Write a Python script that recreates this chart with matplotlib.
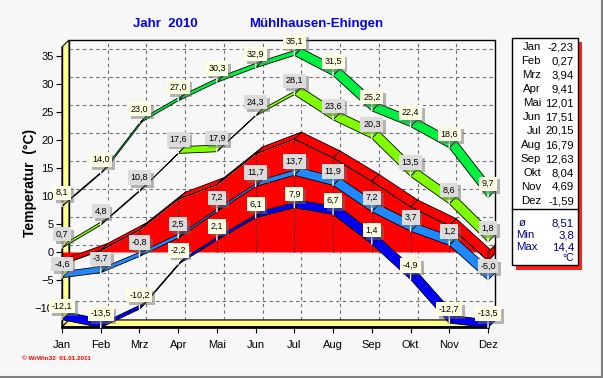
import numpy as np
import matplotlib.pyplot as plt
from matplotlib.patches import Polygon, Rectangle
from matplotlib.lines import Line2D
import matplotlib.patheffects as pe

plt.rcParams['font.family'] = ['Liberation Sans', 'DejaVu Sans']

# monthly values, Muehlhausen-Ehingen 2010
months = ['Jan', 'Feb', 'Mrz', 'Apr', 'Mai', 'Jun', 'Jul', 'Aug', 'Sep', 'Okt', 'Nov', 'Dez']
abs_max = [8.1, 14.0, 23.0, 27.0, 30.3, 32.9, 35.1, 31.5, 25.2, 22.4, 18.6, 9.7]
mean_max = [0.7, 4.8, 10.8, 17.6, 17.9, 24.3, 28.1, 23.6, 20.3, 13.5, 8.6, 1.8]
mean_temp = [-2.23, 0.27, 3.94, 9.41, 12.01, 17.51, 20.15, 16.79, 12.63, 8.04, 4.69, -1.59]
mean_min = [-4.6, -3.7, -0.8, 2.5, 7.2, 11.7, 13.7, 11.9, 7.2, 3.7, 1.2, -5.0]
abs_min = [-12.1, -13.5, -10.2, -2.2, 2.1, 6.1, 7.9, 6.7, 1.4, -4.9, -12.7, -13.5]
stat_names = ['ø', 'Min', 'Max']
stat_values = [8.51, 3.8, 14.4]
yticks = [-10, -5, 0, 5, 10, 15, 20, 25, 30, 35]

W, H = 603, 378
bg = '#f7f7f7'
fig = plt.figure(figsize=(W / 100, H / 100), dpi=100, facecolor=bg)

def fx(px):
    return px / W

def fy(py):
    return 1 - py / H

ax = fig.add_axes([fx(62), fy(327), (488 - 62) / W, (327 - 47) / H])
ymin, ymax = -13.4, 36.6
ax.set_xlim(0, 11)
ax.set_ylim(ymin, ymax)
ax.patch.set_visible(False)
x = np.arange(12)

# 3d depth, 7 px back and up
dx = 7 * 11 / 426
dy = 7 * (ymax - ymin) / 280

# back wall, side wall, floor
ax.add_patch(Rectangle((dx, ymin + dy), 11, ymax - ymin, fc=bg, ec='black', lw=1,
                       zorder=0, clip_on=False))
for v in yticks:
    ax.plot([dx, 11 + dx], [v + dy, v + dy], color='#707070', lw=0.8, ls=(0, (3, 3)),
            zorder=1, clip_on=False)
for m in x[1:-1]:
    ax.plot([m + dx, m + dx], [ymin + dy, ymax + dy], color='#707070', lw=0.8,
            ls=(0, (3, 3)), zorder=1, clip_on=False)
ax.add_patch(Polygon([(0, ymin), (0, ymax), (dx, ymax + dy), (dx, ymin + dy)],
                     fc='#ffff8c', ec='black', lw=0.8, zorder=2, clip_on=False))
ax.add_patch(Polygon([(0, ymin), (11, ymin), (11 + dx, ymin + dy), (dx, ymin + dy)],
                     fc='#ffff8c', ec='black', lw=0.8, zorder=2, clip_on=False))

# mean temperature as 3d area
ax.fill_between(x, 0, mean_temp, color='red', lw=0, zorder=3)
for i in range(11):
    poly = [(x[i], mean_temp[i]), (x[i + 1], mean_temp[i + 1]),
            (x[i + 1] + dx, mean_temp[i + 1] + dy), (x[i] + dx, mean_temp[i] + dy)]
    ax.add_patch(Polygon(poly, fc='red', ec='black', lw=0.6, zorder=3, clip_on=False))
ax.add_patch(Polygon([(11, 0), (11, mean_temp[-1]), (11 + dx, mean_temp[-1] + dy), (11 + dx, dy)],
                     fc='#e00000', ec='black', lw=0.6, zorder=3, clip_on=False))
ax.plot(x, mean_temp, color='black', lw=0.6, zorder=3)
ax.vlines(x[1:], 0, mean_temp[1:], colors='black', linestyles=':', lw=0.8, zorder=3)


def ribbon(vals, color, z):
    for i in range(11):
        poly = [(x[i], vals[i]), (x[i + 1], vals[i + 1]),
                (x[i + 1] + dx, vals[i + 1] + dy), (x[i] + dx, vals[i] + dy)]
        ax.add_patch(Polygon(poly, fc=color, ec='black', lw=0.6, zorder=z, clip_on=False))


def labels(vals, fc, z):
    for xi, v in zip(x, vals):
        t = ax.annotate(f'{v:.1f}'.replace('.', ','), (xi, v), xytext=(0, 10),
                        textcoords='offset points', ha='center', va='center', fontsize=6.5,
                        bbox=dict(boxstyle='square,pad=0.3', fc=fc, ec='none'),
                        arrowprops=dict(arrowstyle='-', color='white', lw=1, shrinkA=0, shrinkB=0),
                        zorder=z, annotation_clip=False)
        t.get_bbox_patch().set_path_effects([
            pe.SimplePatchShadow(offset=(2, -2), shadow_rgbFace='#707070', alpha=0.5),
            pe.Normal()])


ribbon(abs_max, '#00f040', 4)
ribbon(mean_max, '#80ff00', 4)
ribbon(mean_min, '#1e88ff', 5)
ribbon(abs_min, '#0000f0', 5)
labels(abs_max, '#ffffe4', 10)
labels(mean_max, '#dcdcdc', 10)
labels(mean_min, '#dcdcdc', 11)
labels(abs_min, '#ffffe4', 11)

# axes
ax.set_xticks(x)
ax.set_xticklabels(months)
ax.set_yticks(yticks)
ax.tick_params(axis='both', direction='out', length=4, width=0.8, labelsize=8)
ax.tick_params(axis='x', pad=5)
ax.tick_params(axis='y', pad=2)
ax.spines['top'].set_visible(False)
ax.spines['right'].set_visible(False)
ax.spines['bottom'].set_linewidth(2)
ax.spines['left'].set_linewidth(1)
for s in ax.spines.values():
    s.set_zorder(6)

fig.text(fx(30), fy(183), 'Temperatur  (°C)', rotation=90, fontweight='bold', fontsize=10,
         ha='center', va='center')
fig.text(fx(165), fy(24), 'Jahr  2010', color='#0000ee', fontweight='bold', fontsize=9.5,
         ha='center', va='center')
fig.text(fx(316), fy(24), 'Mühlhausen-Ehingen', color='#0000ee', fontweight='bold',
         fontsize=9.5, ha='center', va='center')
fig.text(fx(22), fy(358), '© WrWin32  01.01.2011', color='red', fontweight='bold', fontsize=4.6,
         ha='left', va='center')

# side box with monthly means
fig.add_artist(Rectangle((fx(516), fy(270)), (582 - 516) / W, (270 - 42) / H,
                         transform=fig.transFigure, fc='#ff2020', ec='none'))
fig.add_artist(Rectangle((fx(512), fy(265)), (578 - 512) / W, (265 - 38) / H,
                         transform=fig.transFigure, fc='white', ec='black', lw=1))
fig.add_artist(Line2D([fx(512), fx(578)], [fy(209), fy(209)], color='black', lw=1))
for i, (m, v) in enumerate(zip(months, mean_temp)):
    fig.text(fx(541), fy(47 + 14 * i), m, fontsize=8.2, ha='right', va='center')
    fig.text(fx(574), fy(47 + 14 * i), f'{v:.2f}'.replace('.', ','), fontsize=8.2,
             ha='right', va='center')
for i, (n, v) in enumerate(zip(stat_names, stat_values)):
    fig.text(fx(516 if i else 519), fy(223 + 12 * i), n, fontsize=8.2, color='#000080',
             ha='left', va='center')
    fig.text(fx(574), fy(223 + 12 * i), f'{v:g}'.replace('.', ','), fontsize=8.2,
             color='#000080', ha='right', va='center')
fig.text(fx(574), fy(258), '°C', fontsize=7.5, color='#000080', ha='right', va='center')

# window border
fig.add_artist(Line2D([0, 1], [fy(376.5), fy(376.5)], color='#808080', lw=1.5))
fig.add_artist(Line2D([fx(601.5), fx(601.5)], [0, 1], color='#808080', lw=1.5))

fig.savefig('out.png', dpi=100, facecolor=bg)
